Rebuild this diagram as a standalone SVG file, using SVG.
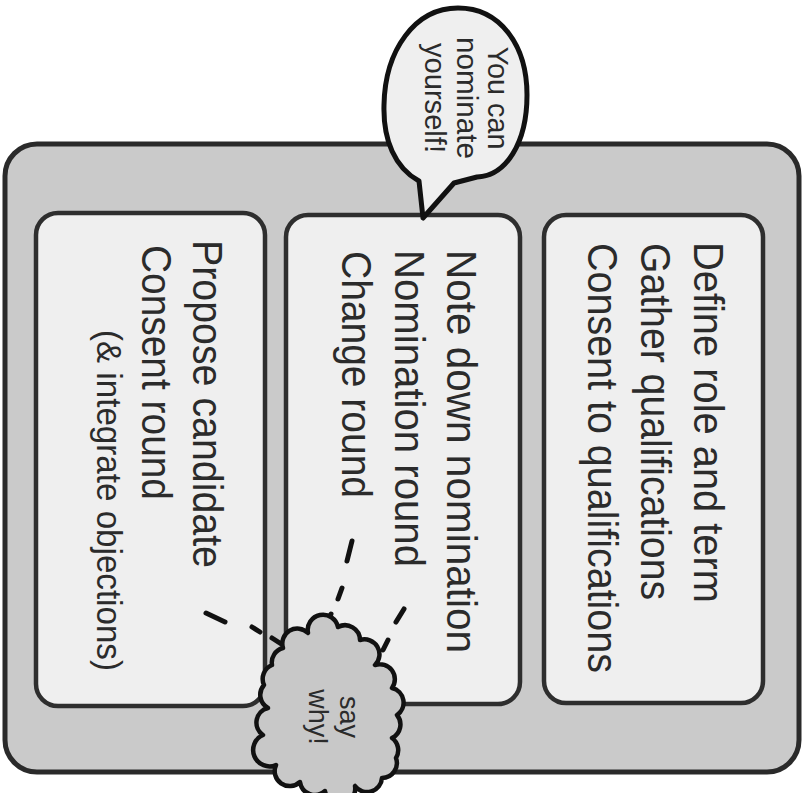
<svg xmlns="http://www.w3.org/2000/svg" width="811" height="793" viewBox="0 0 811 793">
  <style>
    .outer { fill: #cacaca; stroke: #2a2a2a; stroke-width: 5; }
    .box { fill: #efefef; stroke: #2e2e2e; stroke-width: 4.5; }
    .t { font-family: "Liberation Sans", Arial, sans-serif; fill: #2b2b2b; }
    .big { font-size: 43px; }
    .small { font-size: 35px; }
    .note { font-size: 30px; text-anchor: middle; }
    .why { font-size: 27px; text-anchor: middle; }
    .ink { fill: none; stroke: #111; stroke-width: 5; stroke-linecap: round; stroke-linejoin: round; }
    .bubble { fill: #efefef; stroke: #111; stroke-width: 5; stroke-linejoin: round; }
    .cloud { fill: #c8c8c8; stroke: #111; stroke-width: 4.5; stroke-linejoin: round; }
  </style>
  <rect width="811" height="793" fill="#ffffff"/>

  <g id="frame">
    <rect class="outer" x="5" y="144" width="794" height="628" rx="32" ry="32"/>
  </g>

  <g id="box-left">
    <rect class="box" x="36" y="213" width="229" height="493" rx="22" ry="22"/>
    <text class="t big" transform="translate(193,240) rotate(90)" textLength="328" lengthAdjust="spacingAndGlyphs">Propose candidate</text>
    <text class="t big" transform="translate(142,245) rotate(90)" textLength="255" lengthAdjust="spacingAndGlyphs">Consent round</text>
    <text class="t small" transform="translate(97,330) rotate(90)" textLength="341" lengthAdjust="spacingAndGlyphs">(&amp; integrate objections)</text>
  </g>

  <g id="box-middle">
    <rect class="box" x="286" y="215" width="234" height="489" rx="22" ry="22"/>
    <text class="t big" transform="translate(447,250) rotate(90)" textLength="403" lengthAdjust="spacingAndGlyphs">Note down nomination</text>
    <text class="t big" transform="translate(395,250) rotate(90)" textLength="317" lengthAdjust="spacingAndGlyphs">Nomination round</text>
    <text class="t big" transform="translate(342,251) rotate(90)" textLength="247" lengthAdjust="spacingAndGlyphs">Change round</text>
  </g>

  <g id="box-right">
    <rect class="box" x="544" y="215" width="219" height="488" rx="22" ry="22"/>
    <text class="t big" transform="translate(694,242) rotate(90)" textLength="361" lengthAdjust="spacingAndGlyphs">Define role and term</text>
    <text class="t big" transform="translate(641,243) rotate(90)" textLength="357" lengthAdjust="spacingAndGlyphs">Gather qualifications</text>
    <text class="t big" transform="translate(588,243) rotate(90)" textLength="430" lengthAdjust="spacingAndGlyphs">Consent to qualifications</text>
  </g>

  <g id="bubble">
    <path class="bubble" d="M423,218 L419,181 C395,168 383,140 384,105 C385,50 415,8 458,8 C500,8 527,45 527,95 C527,143 506,176 477,177 L454,183 Z"/>
    <text class="t note" transform="translate(488,98) rotate(90)" textLength="103" lengthAdjust="spacingAndGlyphs">You can</text>
    <text class="t note" transform="translate(457,98) rotate(90)" textLength="122" lengthAdjust="spacingAndGlyphs">nominate</text>
    <text class="t note" transform="translate(425,98) rotate(90)" textLength="110" lengthAdjust="spacingAndGlyphs">yourself!</text>
  </g>

  <g id="connectors">
    <path class="ink" d="M206,613 L225,622"/>
    <path class="ink" d="M252,627 L260,632"/>
    <path class="ink" d="M272,638 L286,647"/>
    <path class="ink" d="M352,541 L347,561"/>
    <path class="ink" d="M342,588 L338,599"/>
    <path class="ink" d="M331,614 L328,621"/>
    <path class="ink" d="M404,609 L396,622"/>
    <path class="ink" d="M388,640 L383,650"/>
  </g>

  <g id="cloud">
    <path class="cloud" d="M283,648 A15,15 0 0 1 308,633 A15,15 0 0 1 338,627 A15,15 0 0 1 360,640 A15,15 0 0 1 375,665 A15,15 0 0 1 392,688 A15,15 0 0 1 397,715 A15,15 0 0 1 392,738 A15,15 0 0 1 396,758 A15,15 0 0 1 382,778 A15,15 0 0 1 355,786 A15,15 0 0 1 325,791 A15,15 0 0 1 300,782 A15,15 0 0 1 276,765 A15,15 0 0 1 263,735 A15,15 0 0 1 268,708 A15,15 0 0 1 264,685 A15,15 0 0 1 272,665 A15,15 0 0 1 283,648 Z"/>
    <text class="t why" transform="translate(340,717) rotate(90)">say</text>
    <text class="t why" transform="translate(309,717) rotate(90)">why!</text>
  </g>
</svg>
